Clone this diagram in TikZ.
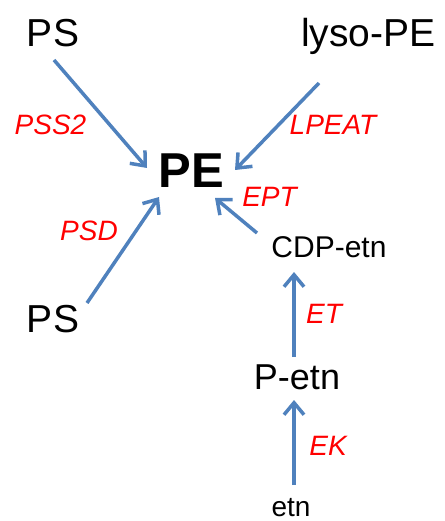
\documentclass[tikz,border=0pt]{standalone}
\usepackage{fontspec}
\setmainfont{Liberation Sans}
\usetikzlibrary{arrows.meta}
\definecolor{arrowblue}{HTML}{4F81BD}
\definecolor{enzred}{HTML}{FF0000}
\tikzset{
  metab/.style={inner sep=0pt, anchor=base, font=\fontsize{39}{46}\selectfont},
  smallmetab/.style={inner sep=0pt, anchor=base, font=\fontsize{30}{36}\selectfont},
  enzyme/.style={inner sep=0pt, anchor=base, text=enzred, font=\fontsize{28}{34}\selectfont\itshape},
  arr/.style={draw=arrowblue, line width=3.5pt, -{Straight Barb[length=12pt,width=20pt]}}
}
\begin{document}
\begin{tikzpicture}[x=1pt,y=-1pt]
\useasboundingbox (0,0) rectangle (444,521);
% metabolites
\node[metab] (pstop) at (53,47) {PS};
\node[metab] (lyso) at (368.5,47) {lyso-PE};
\node[inner sep=0pt, anchor=base, font=\fontsize{49}{58}\selectfont\bfseries] (pe) at (191,188) {PE};
\node[metab] (psbot) at (53,332) {PS};
\node[smallmetab] (cdp) at (329,257) {CDP-etn};
\node[inner sep=0pt, anchor=base, font=\fontsize{36}{43}\selectfont] (petn) at (297,389) {P-etn};
\node[inner sep=0pt, anchor=base, font=\fontsize{28}{34}\selectfont] (etn) at (291,516) {etn};
% enzymes
\node[enzyme] (pss2) at (50.5,135) {PSS2};
\node[enzyme] (lpeat) at (333,135) {LPEAT};
\node[enzyme] (psd) at (89,240) {PSD};
\node[enzyme] (ept) at (269.5,207) {EPT};
\node[enzyme] (et) at (324,323) {ET};
\node[enzyme] (ek) at (328,455) {EK};
% arrows
\draw[arr] ([shift={(1,13)}]pstop.base) -- ([shift={(-44,-20)}]pe.base);
\draw[arr] ([shift={(-49.5,36)}]lyso.base) -- ([shift={(44,-18)}]pe.base);
\draw[arr] ([shift={(34,-29)}]psbot.base) -- ([shift={(-32,9)}]pe.base);
\draw[arr] ([shift={(-72,-24)}]cdp.base) -- ([shift={(24,10)}]pe.base);
\draw[arr] ([shift={(-3,-32)}]petn.base) -- ([shift={(-35,15)}]cdp.base);
\draw[arr] ([shift={(3,-31)}]etn.base) -- ([shift={(-3,11)}]petn.base);
\end{tikzpicture}
\end{document}
